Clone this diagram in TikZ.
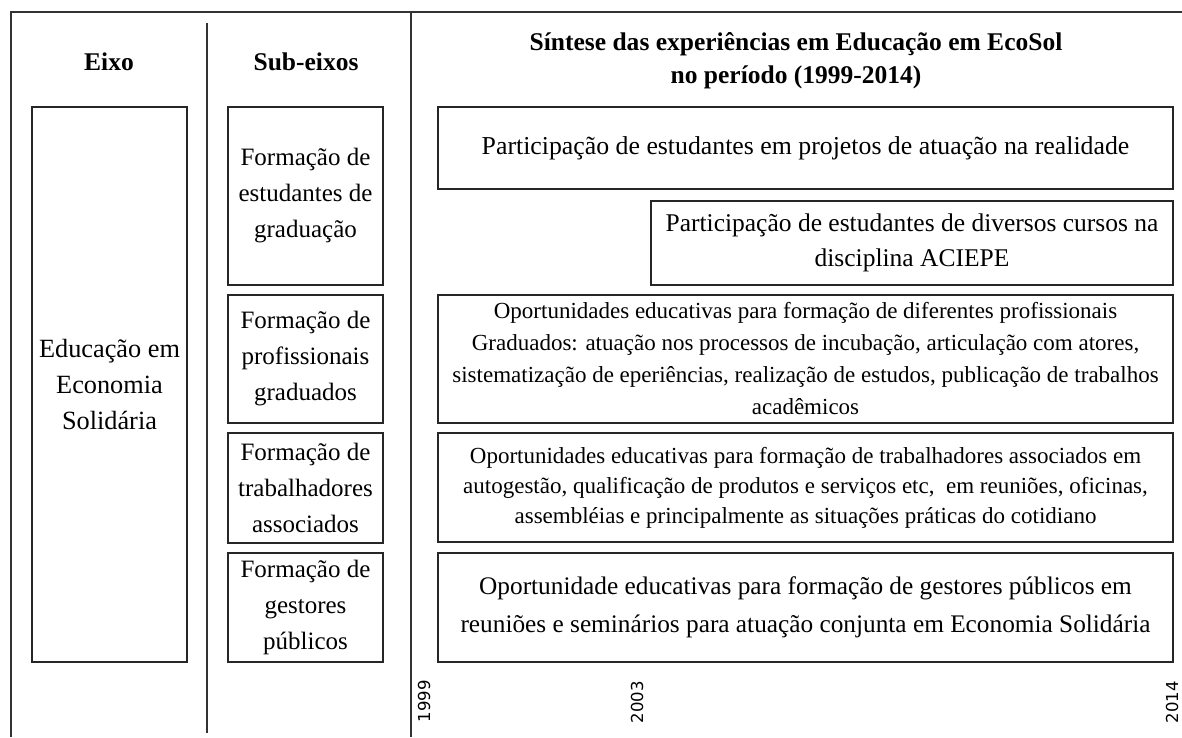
\documentclass[tikz,border=0pt]{standalone}
\usepackage{fontspec}
\setmainfont{Liberation Serif}
\newfontfamily\yearfont{DejaVu Sans}
\begin{document}
\begin{tikzpicture}[x=1pt,y=-1pt,
  frame/.style={line width=1.4pt, draw=black!80},
  box/.style={draw=black!85, line width=1.4pt, inner sep=0pt, align=center},
  bigtxt/.style={font=\fontsize{25}{36}\selectfont},
  head/.style={font=\fontsize{25.5}{33}\selectfont\bfseries, align=center},
  year/.style={rotate=90, font=\yearfont\fontsize{16.5}{18}\selectfont}]
\useasboundingbox (0,0) rectangle (1182,737);
% frame lines
\coordinate (tl) at (11,12);
\coordinate (tr) at (1182,12);
\coordinate (bl) at (11,737);
\coordinate (dtop) at (411,12);
\coordinate (dbot) at (411,737);
\coordinate (stop) at (207,23);
\coordinate (sbot) at (207,733);
\draw[frame] (bl) -- (tl) -- (tr);
\draw[frame] (dtop) -- (dbot);
\draw[frame] (stop) -- (sbot);
% headers
\node[head] (h1) at (109,62) {Eixo};
\node[head] (h2) at (306,62) {Sub-eixos};
\node[head] (h3) at (796,61) {Síntese das experiências em Educação em EcoSol\\no período (1999-2014)};
% eixo box
\node[box, font=\fontsize{26.3}{36}\selectfont, minimum width=155pt, minimum height=555pt] (eixo) at (109.5,384.5)
  {Educação em\\Economia\\Solidária};
% sub-eixos
\node[box, bigtxt, minimum width=155pt, minimum height=178pt] (s1) at (305.5,196)
  {Formação de\\estudantes de\\graduação};
\node[box, bigtxt, minimum width=155pt, minimum height=128pt] (s2) at (305.5,359)
  {Formação de\\profissionais\\graduados};
\node[box, bigtxt, minimum width=155pt, minimum height=110pt] (s3) at (305.5,488)
  {Formação de\\trabalhadores\\associados};
\node[box, bigtxt, minimum width=155pt, minimum height=109pt] (s4) at (305.5,607.5)
  {Formação de\\gestores\\públicos};
% right boxes
\node[box, font=\fontsize{25.8}{36}\selectfont, minimum width=735pt, minimum height=82pt] (r1) at (805.5,148)
  {Participação de estudantes em projetos de atuação na realidade};
\node[box, font=\fontsize{25.5}{35}\selectfont, minimum width=522pt, minimum height=84pt] (r2) at (912,243)
  {Participação de estudantes de diversos cursos na\\disciplina ACIEPE};
\node[box, font=\fontsize{23}{32}\selectfont, minimum width=735pt, minimum height=128pt] (r3) at (805.5,359)
  {Oportunidades educativas para formação de diferentes profissionais\\
   Graduados: atuação nos processos de incubação, articulação com atores,\\
   sistematização de eperiências, realização de estudos, publicação de trabalhos\\
   acadêmicos};
\node[box, font=\fontsize{23}{30}\selectfont, minimum width=735pt, minimum height=109pt] (r4) at (805.5,487.5)
  {Oportunidades educativas para formação de trabalhadores associados em\\
   autogestão, qualificação de produtos e serviços etc,\ \ em reuniões, oficinas,\\
   assembléias e principalmente as situações práticas do cotidiano};
\node[box, font=\fontsize{25.3}{38}\selectfont, minimum width=735pt, minimum height=109pt] (r5) at (805.5,607.5)
  {Oportunidade educativas para formação de gestores públicos em\\
   reuniões e seminários para atuação conjunta em Economia Solidária};
% years
\node[year] (y1) at (424,701) {1999};
\node[year] (y2) at (637,702) {2003};
\node[year] (y3) at (1172,702) {2014};
\end{tikzpicture}
\end{document}
